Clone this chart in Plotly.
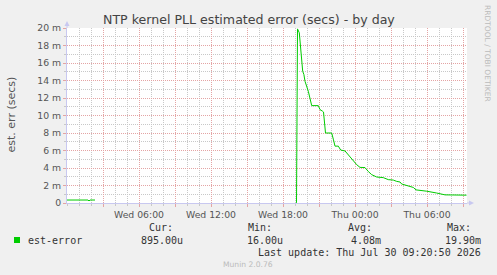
import plotly.graph_objects as go

# ---- data ----
times = [
    "2026-07-29 00:00", "2026-07-29 01:45", "2026-07-29 01:50", "2026-07-29 01:55",
    "2026-07-29 02:20", "2026-07-29 02:25",
    "2026-07-29 19:07:30", "2026-07-29 19:12:30", "2026-07-29 19:21:30",
    "2026-07-29 19:38:30", "2026-07-29 19:44:30", "2026-07-29 19:50:00",
    "2026-07-29 20:06:30", "2026-07-29 20:15:00", "2026-07-29 20:23:30",
    "2026-07-29 20:56:30", "2026-07-29 21:05:00", "2026-07-29 21:18:30",
    "2026-07-29 21:22:30", "2026-07-29 21:32:30", "2026-07-29 22:03:30",
    "2026-07-29 22:11:30", "2026-07-29 22:20:00", "2026-07-29 22:36:30",
    "2026-07-29 22:48:30", "2026-07-29 23:10:00", "2026-07-29 23:26:30",
    "2026-07-29 23:43:30", "2026-07-29 23:55:00", "2026-07-30 00:08:30",
    "2026-07-30 00:25:00", "2026-07-30 00:50:00", "2026-07-30 01:06:30",
    "2026-07-30 01:23:30", "2026-07-30 01:48:30", "2026-07-30 02:21:30",
    "2026-07-30 02:46:30", "2026-07-30 03:11:30", "2026-07-30 03:28:30",
    "2026-07-30 03:45:00", "2026-07-30 03:53:30", "2026-07-30 04:26:30",
    "2026-07-30 04:51:30", "2026-07-30 05:05:00", "2026-07-30 05:33:30",
    "2026-07-30 05:58:30", "2026-07-30 06:48:30", "2026-07-30 07:30:00",
    "2026-07-30 09:17:30",
]
est_error = [
    0.00034, 0.00034, 0.00023, 0.00034,
    0.00034, None,
    0.000016, 0.0199, 0.01945,
    0.01506, 0.01468, 0.01391,
    0.01277, 0.01182, 0.01113,
    0.01113, 0.01067, 0.01048,
    0.0104, 0.0080, 0.0080,
    0.0073, 0.0065, 0.0065,
    0.00605, 0.00595, 0.0055,
    0.00515, 0.00476, 0.00438,
    0.00407, 0.00405, 0.0036,
    0.00324, 0.00297, 0.0029,
    0.00267, 0.00262, 0.00247,
    0.0024, 0.00217, 0.00198,
    0.00178, 0.0015, 0.00145,
    0.00135, 0.00114, 0.00093,
    0.000895,
]

x_range = ["2026-07-29 00:00", "2026-07-30 09:20"]
x_tickvals = ["2026-07-29 03:00", "2026-07-29 06:00", "2026-07-29 09:00", "2026-07-29 12:00",
              "2026-07-29 15:00", "2026-07-29 18:00", "2026-07-29 21:00", "2026-07-30 00:00",
              "2026-07-30 03:00", "2026-07-30 06:00", "2026-07-30 09:00"]
x_ticktext = ["", "Wed 06:00", "", "Wed 12:00", "", "Wed 18:00", "", "Thu 00:00",
              "", "Thu 06:00", ""]
y_tickvals = [0, 0.002, 0.004, 0.006, 0.008, 0.010, 0.012, 0.014, 0.016, 0.018, 0.020]
y_ticktext = ["0", "2 m", "4 m", "6 m", "8 m", "10 m", "12 m", "14 m", "16 m", "18 m", "20 m"]

legend_name = "est-error"
stat_heads = ["Cur:", "Min:", "Avg:", "Max:"]
stat_vals = ["895.00u", "16.00u", "4.08m", "19.90m"]

# ---- layout geometry (pixels) ----
W, H = 497, 275
L, R, T, B = 67, 30, 28, 72
PW, PH = W - L - R, H - T - B


def px(xp):
    return (xp - L) / PW


def py(yp):
    return (H - B - yp) / PH


GREEN = "#00CC00"
MGRID = "#E4A4A4"
GRID = "#C8C8C8"
AXIS = "#C8C8F0"
MONO = "DejaVu Sans Mono"
SANS = "DejaVu Sans"

fig = go.Figure()
fig.add_trace(go.Scatter(x=times, y=est_error, mode="lines",
                         line=dict(color=GREEN, width=1), connectgaps=False,
                         hoverinfo="skip", showlegend=False))

fig.update_layout(
    width=W, height=H,
    margin=dict(l=L, r=R, t=T, b=B, pad=0),
    paper_bgcolor="#F0F0F0", plot_bgcolor="white",
    showlegend=False,
    xaxis=dict(type="date", range=x_range, tickmode="array",
               tickvals=x_tickvals, ticktext=x_ticktext,
               showgrid=True, gridcolor=MGRID, gridwidth=1, griddash="1px,1px",
               ticks="outside", ticklen=3, tickcolor=MGRID,
               minor=dict(dtick=3600000, tick0="2026-07-29 00:00", showgrid=True,
                          gridcolor=GRID, griddash="1px,1px", ticks="outside",
                          ticklen=2, tickcolor=GRID),
               showline=True, linecolor=AXIS, linewidth=1, zeroline=False,
               tickfont=dict(family=SANS, size=9.3, color="#555")),
    yaxis=dict(range=[0, 0.02], tickmode="array",
               tickvals=y_tickvals, ticktext=y_ticktext,
               showgrid=True, gridcolor=MGRID, gridwidth=1, griddash="1px,1px",
               ticks="outside", ticklen=3, tickcolor=MGRID,
               minor=dict(dtick=0.001, tick0=0, showgrid=True,
                          gridcolor=GRID, griddash="1px,1px", ticks="outside",
                          ticklen=2, tickcolor=GRID),
               showline=True, linecolor=AXIS, linewidth=1, zeroline=False,
               tickfont=dict(family=SANS, size=9.3, color="#555")),
)

# axis arrows
shapes = [
    dict(type="line", xref="paper", yref="paper", x0=px(467), x1=px(471), y0=0, y1=0,
         line=dict(color=AXIS, width=1)),
    dict(type="path", xref="paper", yref="paper",
         path=f"M {px(469)} {py(200.5)} L {px(474)} {py(203)} L {px(469)} {py(205.5)} Z",
         fillcolor=AXIS, line=dict(color=AXIS, width=0)),
    dict(type="line", xref="paper", yref="paper", x0=0, x1=0, y0=1, y1=py(24),
         line=dict(color=AXIS, width=1)),
    dict(type="path", xref="paper", yref="paper",
         path=f"M {px(64.5)} {py(26)} L {px(67)} {py(21)} L {px(69.5)} {py(26)} Z",
         fillcolor=AXIS, line=dict(color=AXIS, width=0)),
    # legend colour box
    dict(type="rect", xref="paper", yref="paper", x0=px(14), x1=px(20),
         y0=py(243), y1=py(237), fillcolor=GREEN, line=dict(width=0)),
]
fig.update_layout(shapes=shapes)

ann = []


def text(s, xp, yp, size, color, family=SANS, xanchor="center", angle=0):
    ann.append(dict(text=s, xref="paper", yref="paper", x=px(xp), y=py(yp),
                    xanchor=xanchor, yanchor="middle", showarrow=False,
                    textangle=angle, font=dict(family=family, size=size, color=color)))


text("NTP kernel PLL estimated error (secs) - by day", 249, 19, 12.6, "#444")
text("est. err (secs)", 11, 114.5, 11, "#555", angle=-90)
text("RRDTOOL / TOBI OETIKER", 488, 53, 7.5, "#BBBBBB", angle=90)
text(legend_name, 26, 240, 10, "#333", family=MONO, xanchor="left")
head_x = [161, 260, 359.5, 458.5]
val_right = [185, 285, 383, 483]
for hx, h in zip(head_x, stat_heads):
    text(h, hx, 227, 10, "#333", family=MONO)
for vx, v in zip(val_right, stat_vals):
    text(v, vx, 240, 10, "#333", family=MONO, xanchor="right")
text("Last update: Thu Jul 30 09:20:50 2026", 483, 252, 10, "#333", family=MONO, xanchor="right")
text("Munin 2.0.76", 248, 264, 7.6, "#BBBBBB")
fig.update_layout(annotations=ann)

fig.write_html("out.html")
